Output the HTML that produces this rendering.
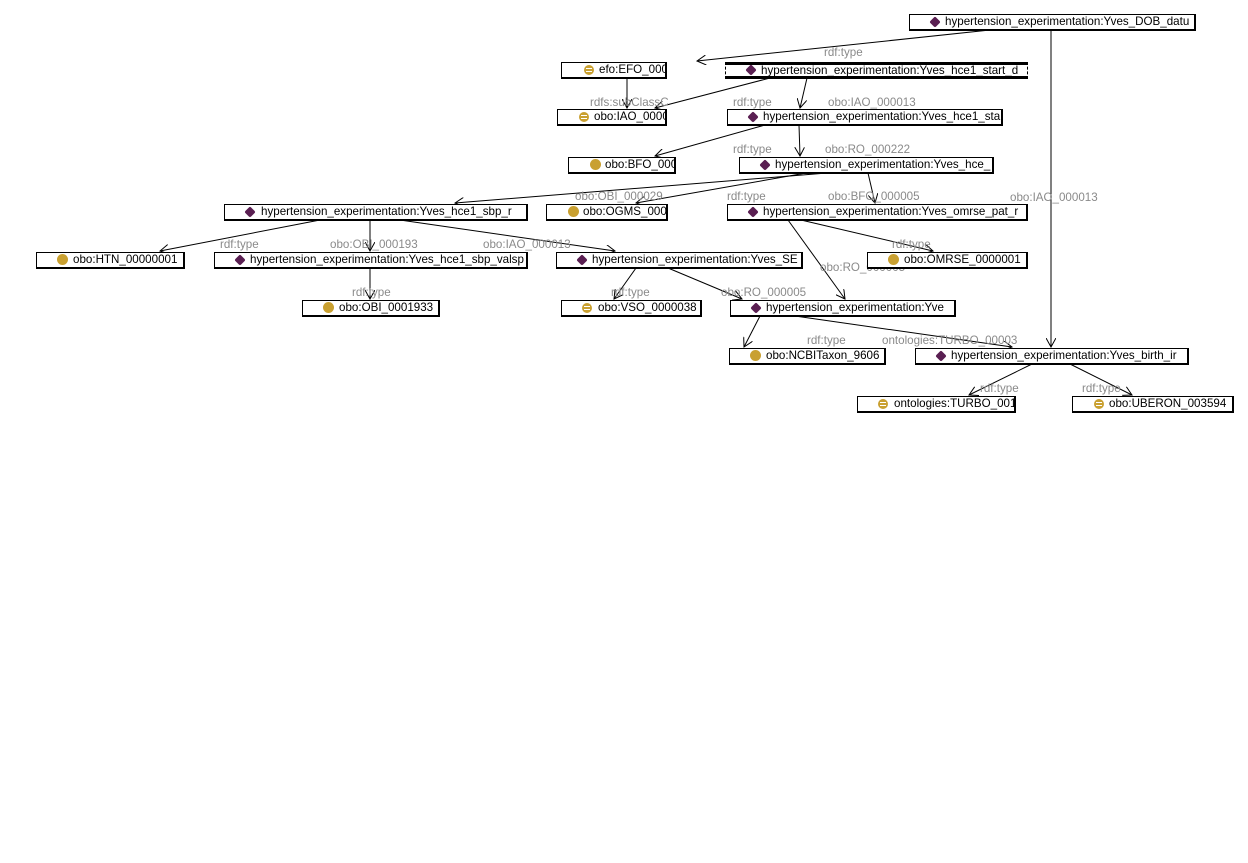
<!DOCTYPE html>
<html><head><meta charset="utf-8"><style>
body{margin:0;background:#fff;width:1248px;height:863px;position:relative;overflow:hidden;font-family:"Liberation Sans",sans-serif}
.b{position:absolute;box-sizing:border-box;border:1px solid #000;border-right-width:2px;border-bottom-width:2px;background:#fff;height:17px;font-size:11.6px;line-height:14px;white-space:nowrap;overflow:hidden;color:#000}
.b span{position:absolute;top:0}
.i{position:absolute;top:2px;width:10px;height:10px}
.d{background:#5a1f52;transform:rotate(45deg) scale(.8);border-radius:2px}
.c{background:#c9a030;border-radius:50%;width:11px;height:11px;top:1px}
.e{background:#c9a030;border-radius:50%}
.e::before,.e::after{content:"";position:absolute;left:2px;right:2px;height:1px;background:#fff}
.e::before{top:3px}.e::after{top:6px}
.sel{border:1px dashed #000;border-top:3px solid #000;border-bottom:3px solid #000}
svg{position:absolute;left:0;top:0}
svg text{font-family:"Liberation Sans",sans-serif;font-size:11.6px;fill:#8a8a8a}
</style></head><body>
<svg width="1248" height="863">
<defs><marker id="a" markerWidth="10" markerHeight="10" refX="9" refY="5" orient="auto" markerUnits="userSpaceOnUse"><path d="M0,0 L9,5 L0,10" fill="none" stroke="#000" stroke-width="1"/></marker></defs>
<g stroke="#000" stroke-width="1" fill="none" marker-end="url(#a)">
<line x1="990" y1="30" x2="697" y2="61"/>
<line x1="1051" y1="30" x2="1051" y2="347"/>
<line x1="627" y1="78" x2="627" y2="108"/>
<line x1="770" y1="78" x2="655" y2="108"/>
<line x1="807" y1="78" x2="800" y2="108"/>
<line x1="765" y1="125" x2="655" y2="156"/>
<line x1="799" y1="125" x2="800" y2="156"/>
<line x1="827" y1="173" x2="455" y2="203"/>
<line x1="806" y1="173" x2="636" y2="203"/>
<line x1="868" y1="173" x2="875" y2="203"/>
<line x1="320" y1="220" x2="160" y2="251"/>
<line x1="370" y1="220" x2="370" y2="251"/>
<line x1="400" y1="220" x2="615" y2="251"/>
<line x1="788" y1="220" x2="845" y2="299" />
<line x1="801" y1="220" x2="933" y2="251"/>
<line x1="370" y1="268" x2="370" y2="299"/>
<line x1="636" y1="268" x2="614" y2="299"/>
<line x1="668" y1="268" x2="742" y2="299"/>
<line x1="760" y1="316" x2="744" y2="347"/>
<line x1="795" y1="316" x2="1012" y2="347"/>
<line x1="1032" y1="364" x2="969" y2="395"/>
<line x1="1070" y1="364" x2="1132" y2="395"/>
</g>
<g>
<text x="824" y="56">rdf:type</text>
<text x="1010" y="201">obo:IAO_000013</text>
<text x="590" y="106">rdfs:subClassC</text>
<text x="733" y="106">rdf:type</text>
<text x="828" y="106">obo:IAO_000013</text>
<text x="733" y="153">rdf:type</text>
<text x="825" y="153">obo:RO_000222</text>
<text x="575" y="200">obo:OBI_000029</text>
<text x="727" y="200">rdf:type</text>
<text x="828" y="200">obo:BFO_000005</text>
<text x="220" y="248">rdf:type</text>
<text x="330" y="248">obo:OBI_000193</text>
<text x="483" y="248">obo:IAO_000013</text>
<text x="820" y="271">obo:RO_000005</text>
<text x="892" y="248">rdf:type</text>
<text x="352" y="296">rdf:type</text>
<text x="611" y="296">rdf:type</text>
<text x="721" y="296">obo:RO_000005</text>
<text x="807" y="344">rdf:type</text>
<text x="882" y="344">ontologies:TURBO_00003</text>
<text x="980" y="392">rdf:type</text>
<text x="1082" y="392">rdf:type</text>
</g>
</svg>
<div class="b" style="left:909px;top:14px;width:287px"><i class="i d" style="left:20px"></i><span style="left:35px">hypertension_experimentation:Yves_DOB_datu</span></div>
<div class="b" style="left:561px;top:62px;width:106px"><i class="i e" style="left:22px"></i><span style="left:37px">efo:EFO_000495(</span></div>
<div class="b sel" style="left:725px;top:62px;width:303px"><i class="i d" style="left:20px;top:0"></i><span style="left:35px;top:-1px">hypertension_experimentation:Yves_hce1_start_d</span></div>
<div class="b" style="left:557px;top:109px;width:110px"><i class="i e" style="left:21px"></i><span style="left:36px">obo:IAO_000041€</span></div>
<div class="b" style="left:727px;top:109px;width:276px"><i class="i d" style="left:20px"></i><span style="left:35px">hypertension_experimentation:Yves_hce1_sta</span></div>
<div class="b" style="left:568px;top:157px;width:108px"><i class="i c" style="left:21px"></i><span style="left:36px">obo:BFO_000003!</span></div>
<div class="b" style="left:739px;top:157px;width:255px"><i class="i d" style="left:20px"></i><span style="left:35px">hypertension_experimentation:Yves_hce_</span></div>
<div class="b" style="left:224px;top:204px;width:304px"><i class="i d" style="left:20px"></i><span style="left:36px">hypertension_experimentation:Yves_hce1_sbp_r</span></div>
<div class="b" style="left:546px;top:204px;width:122px"><i class="i c" style="left:21px"></i><span style="left:36px">obo:OGMS_000009</span></div>
<div class="b" style="left:727px;top:204px;width:301px"><i class="i d" style="left:20px"></i><span style="left:35px">hypertension_experimentation:Yves_omrse_pat_r</span></div>
<div class="b" style="left:36px;top:252px;width:149px"><i class="i c" style="left:20px"></i><span style="left:36px">obo:HTN_00000001</span></div>
<div class="b" style="left:214px;top:252px;width:314px"><i class="i d" style="left:20px"></i><span style="left:35px">hypertension_experimentation:Yves_hce1_sbp_valsp</span></div>
<div class="b" style="left:556px;top:252px;width:247px"><i class="i d" style="left:20px"></i><span style="left:35px">hypertension_experimentation:Yves_SE</span></div>
<div class="b" style="left:867px;top:252px;width:161px"><i class="i c" style="left:20px"></i><span style="left:36px">obo:OMRSE_0000001</span></div>
<div class="b" style="left:302px;top:300px;width:138px"><i class="i c" style="left:20px"></i><span style="left:36px">obo:OBI_0001933</span></div>
<div class="b" style="left:561px;top:300px;width:141px"><i class="i e" style="left:20px"></i><span style="left:36px">obo:VSO_0000038</span></div>
<div class="b" style="left:730px;top:300px;width:226px"><i class="i d" style="left:20px"></i><span style="left:35px">hypertension_experimentation:Yve</span></div>
<div class="b" style="left:729px;top:348px;width:157px"><i class="i c" style="left:20px"></i><span style="left:36px">obo:NCBITaxon_9606</span></div>
<div class="b" style="left:915px;top:348px;width:274px"><i class="i d" style="left:20px"></i><span style="left:35px">hypertension_experimentation:Yves_birth_ir</span></div>
<div class="b" style="left:857px;top:396px;width:159px"><i class="i e" style="left:20px"></i><span style="left:36px">ontologies:TURBO_001020</span></div>
<div class="b" style="left:1072px;top:396px;width:162px"><i class="i e" style="left:21px"></i><span style="left:36px">obo:UBERON_003594</span></div>
</body></html>
